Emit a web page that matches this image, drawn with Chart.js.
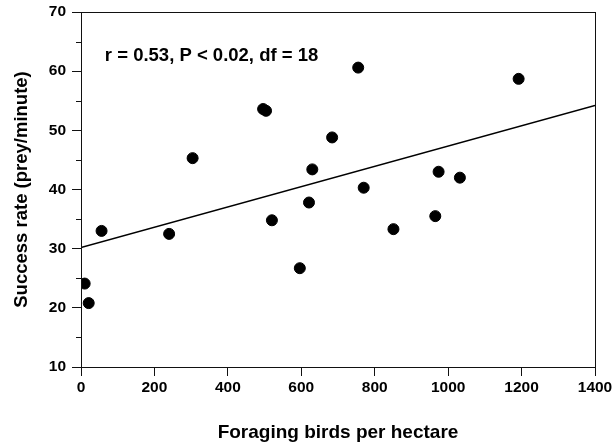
<!DOCTYPE html>
<html>
<head>
<meta charset="utf-8">
<script src="https://cdn.jsdelivr.net/npm/chart.js@4/dist/chart.umd.min.js"></script>
<style>
  html, body { margin: 0; padding: 0; background: #fff; }
  #wrap { width: 615px; height: 444px; }
</style>
</head>
<body>
<div id="wrap"><canvas id="grafico"></canvas></div>
<script>
// data
const birdsPerHectare = [10, 21, 56, 240, 304, 496, 504, 520, 596, 621, 630, 684, 755, 770, 851, 965, 974, 1032, 1192];
const successRate     = [24.1, 20.8, 33.0, 32.5, 45.3, 53.6, 53.3, 34.8, 26.7, 37.8, 43.4, 48.8, 60.6, 40.3, 33.3, 35.5, 43.0, 42.0, 58.7];
const fitX = [0, 1400];
const fitY = [30.2, 54.2];
const xTicks = [0, 200, 400, 600, 800, 1000, 1200, 1400];
const yTicks = [10, 20, 30, 40, 50, 60, 70];
const statsText = 'r = 0.53, P < 0.02, df = 18';
const statsPos = { x: 65, y: 62.6 };

const fonte = 'Liberation Sans, Arial, Helvetica, sans-serif';

// box, minor ticks and the stats label
const extras = {
  id: 'extras',
  afterDraw(chart) {
    const { ctx, chartArea: a, scales } = chart;
    ctx.save();
    ctx.strokeStyle = '#111';
    ctx.lineWidth = 1;
    ctx.strokeRect(a.left + 0.5, a.top + 0.5, a.right - a.left, a.bottom - a.top);
    ctx.beginPath();
    for (let v = 15; v < 70; v += 10) {
      const py = Math.round(scales.y.getPixelForValue(v)) + 0.5;
      ctx.moveTo(a.left - 5, py);
      ctx.lineTo(a.left, py);
    }
    ctx.stroke();
    ctx.fillStyle = '#000';
    ctx.font = 'bold 18.5px ' + fonte;
    ctx.textAlign = 'left';
    ctx.textBaseline = 'middle';
    ctx.fillText(statsText, scales.x.getPixelForValue(statsPos.x), scales.y.getPixelForValue(statsPos.y));
    ctx.restore();
  }
};

new Chart(document.getElementById('grafico'), {
  type: 'scatter',
  data: {
    datasets: [
      {
        label: 'dados',
        data: birdsPerHectare.map((x, i) => ({ x: x, y: successRate[i] })),
        backgroundColor: '#000',
        borderColor: '#000',
        pointRadius: 5.5,
        pointHoverRadius: 5.5
      },
      {
        type: 'line',
        label: 'ajuste',
        data: fitX.map((x, i) => ({ x: x, y: fitY[i] })),
        borderColor: '#000',
        borderWidth: 1.5,
        pointRadius: 0,
        fill: false
      }
    ]
  },
  options: {
    responsive: true,
    maintainAspectRatio: false,
    animation: false,
    layout: { padding: { left: 0, right: 20, top: 12, bottom: 0 } },
    plugins: { legend: { display: false }, tooltip: { enabled: false } },
    scales: {
      x: {
        type: 'linear',
        min: 0, max: 1400,
        afterBuildTicks: s => { s.ticks = xTicks.map(v => ({ value: v })); },
        afterFit: s => { s.height = 77; s.paddingLeft = 0; s.paddingRight = 0; },
        grid: { drawOnChartArea: false, tickLength: 9, color: '#111' },
        border: { color: '#111' },
        ticks: { color: '#000', padding: 2, maxRotation: 0, callback: v => String(v), font: { family: fonte, size: 15.5, weight: 'bold' } },
        title: { display: true, text: 'Foraging birds per hectare', color: '#000', padding: { top: 4, bottom: 0 }, font: { family: fonte, size: 19, weight: 'bold' } }
      },
      y: {
        type: 'linear',
        min: 10, max: 70,
        afterBuildTicks: s => { s.ticks = yTicks.map(v => ({ value: v })); },
        afterFit: s => { s.width = 81; s.paddingTop = 0; s.paddingBottom = 0; },
        grid: { drawOnChartArea: false, tickLength: 9, color: '#111' },
        border: { color: '#111' },
        ticks: { color: '#000', padding: 6, callback: v => String(v), font: { family: fonte, size: 15.5, weight: 'bold' } },
        title: { display: true, text: 'Success rate (prey/minute)', color: '#000', padding: { top: 11, bottom: 0 }, font: { family: fonte, size: 18.5, weight: 'bold' } }
      }
    }
  },
  plugins: [extras]
});
</script>
</body>
</html>
